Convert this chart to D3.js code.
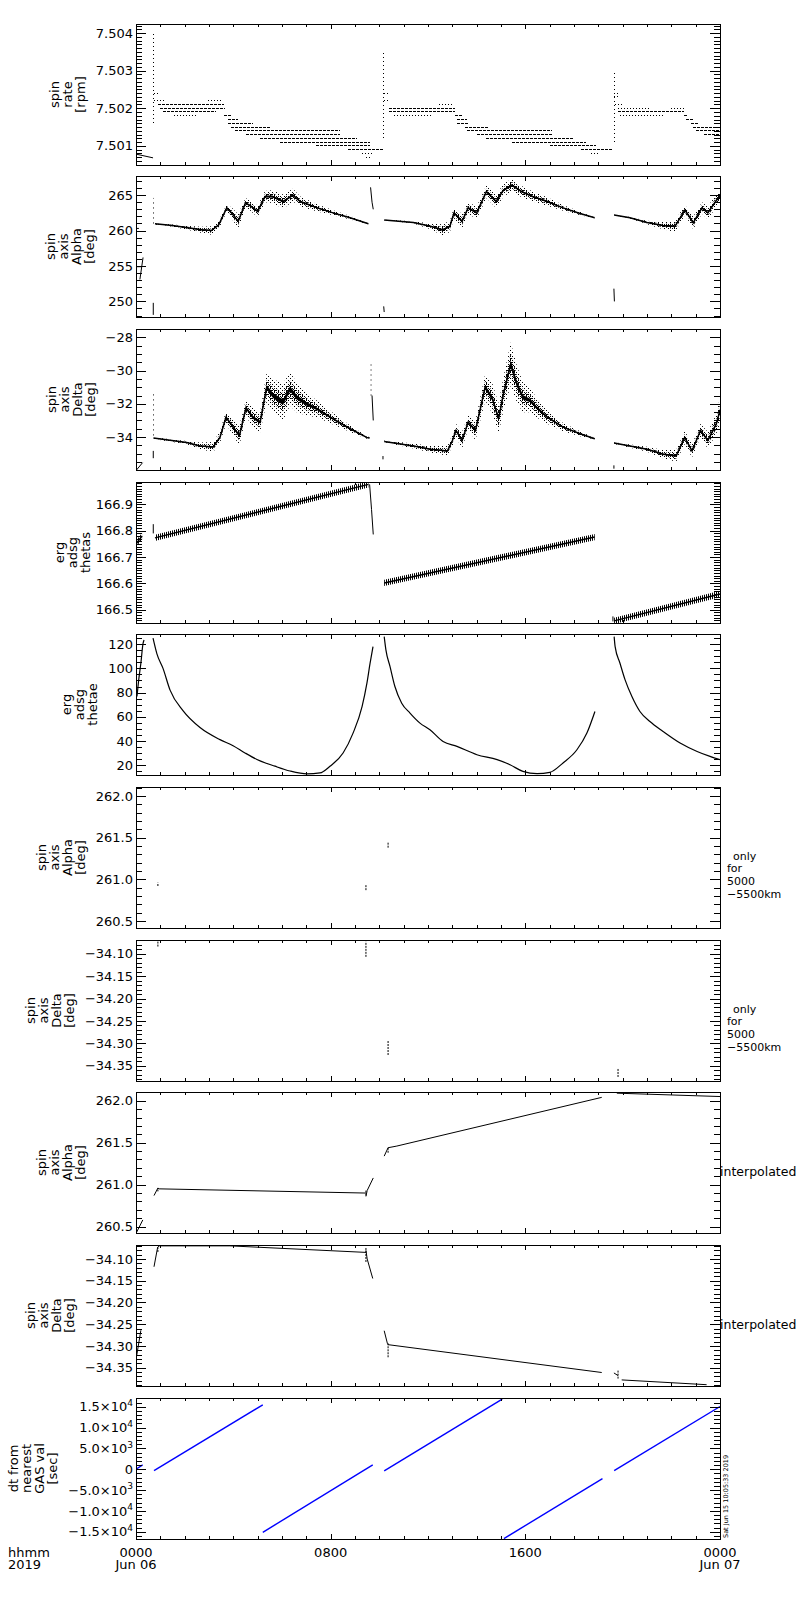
<!DOCTYPE html>
<html>
<head>
<meta charset="utf-8">
<script src="https://cdn.jsdelivr.net/npm/d3@7"></script>
<style>
  body { margin: 0; background: #fff; }
  svg { display: block; }
  text { font-family: "DejaVu Sans", sans-serif; fill: #000; }
</style>
</head>
<body>
<script>
// all times are hours since 2019-06-06 00:00

// --- spin rate [rpm]: quantised rows [h0, h1, value]
const rateDense = [
  [0.9, 3.6, 7.5021], [0.98, 3.65, 7.5020], [1.1, 3.3, 7.5019],
  [3.6, 3.95, 7.5018], [3.8, 4.2, 7.5017], [3.8, 4.8, 7.5016], [3.9, 5.5, 7.5015],
  [4.07, 8.4, 7.5014], [4.5, 8.4, 7.5013], [5.1, 9.1, 7.5012], [5.9, 9.6, 7.5011],
  [7.4, 9.6, 7.5010], [8.7, 10.15, 7.5009],
  [10.4, 13.1, 7.5020], [10.4, 13.1, 7.5019], [13.1, 13.4, 7.5018], [13.2, 13.6, 7.5017],
  [13.2, 13.7, 7.5016], [13.5, 14.5, 7.5015], [13.6, 17.1, 7.5014], [14.0, 17.1, 7.5013],
  [14.4, 17.95, 7.5012], [15.45, 18.5, 7.5011], [17.0, 18.9, 7.5010], [18.3, 19.6, 7.5009],
  [19.8, 22.5, 7.5019], [22.5, 22.7, 7.5018], [22.6, 22.95, 7.5017], [22.8, 23.1, 7.5016],
  [22.9, 23.9, 7.5015], [23.0, 24, 7.5014], [23.35, 24, 7.5013]
];
const rateSparse = [
  [0.72, 0.95, 7.5024], [0.75, 1.15, 7.5022], [1.55, 2.5, 7.5018], [2.95, 3.5, 7.5022],
  [9.3, 9.8, 7.5008], [9.45, 9.7, 7.5007],
  [10.2, 10.35, 7.5024], [10.2, 10.45, 7.5022], [10.6, 12.2, 7.5018], [12.45, 13.0, 7.5021],
  [18.7, 19.0, 7.5008],
  [19.65, 19.9, 7.5024], [19.65, 19.9, 7.5023], [19.7, 20.0, 7.5021], [19.8, 21.1, 7.5020],
  [22.0, 22.5, 7.5020], [19.9, 21.7, 7.5018]
];
const rateLead = [[0, 7.50078], [0.7, 7.50068]];
const rateSpikes = [[0.7, 7.5016, 7.5040], [10.19, 7.5012, 7.50353], [19.65, 7.5011, 7.50295]];

// --- spin axis alpha [deg]: [h, centre, half spread]
const alphaCycles = [
  [[0.78, 260.95, 0.1], [1.5, 260.7, 0.15], [2.2, 260.35, 0.3], [2.7, 260.1, 0.45], [3.1, 260.0, 0.6],
   [3.4, 260.8, 0.6], [3.73, 263.2, 0.5], [3.95, 262.4, 0.8], [4.2, 261.3, 1.0], [4.5, 263.9, 0.7],
   [4.7, 263.5, 0.7], [5.0, 262.7, 0.8], [5.3, 264.8, 0.8], [5.6, 264.8, 0.9], [6.05, 264.1, 1.0],
   [6.45, 265.0, 0.9], [6.75, 264.1, 0.7], [7.45, 263.2, 0.5], [8.1, 262.5, 0.35], [8.8, 261.8, 0.25],
   [9.55, 260.95, 0.05]],
  [[10.2, 261.5, 0.05], [11.4, 261.15, 0.15], [12.1, 260.6, 0.4], [12.6, 260.1, 0.8], [12.9, 260.6, 0.8],
   [13.07, 262.5, 0.8], [13.4, 261.3, 1.0], [13.65, 263.2, 0.8], [14.0, 262.5, 0.9], [14.4, 265.5, 0.9],
   [14.8, 264.1, 0.9], [15.1, 265.7, 0.9], [15.45, 266.4, 0.9], [15.85, 265.5, 0.8], [16.3, 264.8, 0.7],
   [16.9, 264.1, 0.6], [17.55, 263.2, 0.4], [18.25, 262.4, 0.25], [18.85, 261.8, 0.05]],
  [[19.65, 262.2, 0.05], [20.3, 261.8, 0.1], [21.0, 261.15, 0.25], [21.66, 260.7, 0.5], [22.15, 260.6, 0.8],
   [22.56, 262.9, 0.7], [22.9, 261.1, 0.9], [23.26, 263.2, 0.8], [23.5, 262.5, 0.9], [23.86, 264.3, 0.9],
   [24, 264.8, 0.9]]
];
const alphaLines = [
  [[0.16, 253.1], [0.29, 256.2]], [[0.03, 254.9], [0.23, 254.9]], [[0.02, 260.3], [0.12, 260.3]],
  [[0.71, 249.8], [0.71, 248.1]], [[9.64, 266.1], [9.7, 264.0], [9.75, 263.0]],
  [[10.18, 249.3], [10.2, 248.5]], [[19.64, 251.8], [19.66, 250.0]]
];
const alphaDots = [[0.72, 261.0, 264.6]];

// --- spin axis delta [deg]
const deltaCycles = [
  [[0.72, -34.06, 0.05], [2.08, -34.33, 0.1], [2.63, -34.53, 0.2], [3.17, -34.59, 0.3], [3.45, -34.02, 0.35],
   [3.7, -32.81, 0.4], [4.0, -33.42, 0.5], [4.25, -33.92, 0.6], [4.52, -32.24, 0.5], [4.8, -32.81, 0.6],
   [5.1, -33.11, 0.6], [5.37, -31.0, 0.9], [5.63, -31.5, 1.0], [6.04, -31.9, 1.1], [6.33, -31.1, 1.0],
   [6.6, -31.6, 0.9], [7.0, -32.0, 0.7], [7.43, -32.3, 0.5], [8.1, -32.9, 0.35], [8.8, -33.5, 0.2],
   [9.48, -34.02, 0.08], [9.6, -34.06, 0.05]],
  [[10.2, -34.26, 0.05], [11.4, -34.53, 0.15], [12.1, -34.73, 0.2], [12.8, -34.83, 0.3], [13.0, -34.22, 0.35],
   [13.15, -33.6, 0.4], [13.4, -34.2, 0.5], [13.65, -33.1, 0.4], [13.95, -33.6, 0.6], [14.35, -31.0, 0.8],
   [14.65, -31.7, 0.9], [14.9, -32.9, 0.9], [15.1, -31.4, 1.0], [15.4, -29.6, 1.3], [15.65, -30.8, 1.1],
   [15.9, -31.6, 0.9], [16.2, -31.8, 0.7], [16.45, -32.2, 0.6], [16.9, -32.8, 0.4], [17.55, -33.4, 0.25],
   [18.25, -33.8, 0.15], [18.85, -34.1, 0.05]],
  [[19.65, -34.36, 0.05], [21.0, -34.73, 0.15], [21.66, -35.03, 0.25], [22.2, -35.13, 0.35], [22.55, -34.02, 0.4],
   [22.85, -34.83, 0.4], [23.2, -33.6, 0.4], [23.5, -34.2, 0.5], [23.85, -33.2, 0.6], [24, -32.4, 0.8]]
];
const deltaLines = [
  [[0.02, -35.98], [0.27, -35.54]], [[0.71, -34.83], [0.71, -35.27]],
  [[9.7, -31.5], [9.75, -33.0]], [[10.15, -35.14], [10.15, -35.34]], [[19.64, -35.7], [19.64, -35.9]]
];
const deltaDots = [[0.72, -33.9, -31.36], [9.66, -31.5, -29.58]];

// --- erg adsg thetas [deg]
const thetasBands = [
  [[0.0, 166.75], [0.25, 166.78]],
  [[0.78, 166.773], [9.55, 166.976]],
  [[10.2, 166.602], [18.85, 166.776]],
  [[19.65, 166.458], [24, 166.56]]
];
const thetasLines = [
  [[0.71, 166.79], [0.71, 166.825]],
  [[9.6, 166.976], [9.68, 166.88], [9.75, 166.786]],
  [[19.6, 166.456], [19.6, 166.475]]
];

// --- erg adsg thetae [deg]
const thetaeLines = [
  [[0.04, 76.7], [0.12, 91.9], [0.2, 104.3], [0.29, 120.8], [0.33, 123.6]],
  [[0.7, 125], [0.86, 112], [1.11, 100], [1.4, 82], [1.93, 65], [2.63, 51], [3.45, 41], [3.99, 36],
   [4.48, 30], [4.97, 24.6], [5.71, 19], [6.33, 15], [7.03, 12.6], [7.56, 13.4], [7.97, 18.9],
   [8.51, 29.9], [8.92, 46.4], [9.29, 68.4], [9.49, 87.8], [9.62, 104.3], [9.74, 118]],
  [[10.2, 126.3], [10.27, 115.3], [10.44, 101.5], [10.64, 85], [10.92, 71.2], [11.26, 63], [11.67, 54.7],
   [12.08, 49.2], [12.62, 39.5], [13.19, 35.4], [14.01, 28.5], [14.84, 24.4], [15.37, 20.2], [15.9, 14.7],
   [16.48, 12.8], [17.01, 13.9], [17.55, 21.7], [18.12, 32.6], [18.53, 46.4], [18.86, 64.3]],
  [[19.65, 126.3], [19.69, 118], [19.89, 104.3], [20.1, 90.5], [20.38, 76.7], [20.71, 64.3], [21.12, 56],
   [21.66, 47.8], [22.36, 38.2], [23.06, 31.2], [23.59, 27.1], [24, 24.4]]
];

// --- only for 5000-5500 km: [h, low, high]
const alphaMarks = [[0.9, 260.92, 260.96], [9.45, 260.87, 260.93], [10.36, 261.38, 261.44]];
const deltaMarks = [[0.9, -34.084, -34.073], [9.45, -34.107, -34.073], [10.36, -34.326, -34.293], [19.81, -34.375, -34.355]];

// --- interpolated
const alphaInterp = [
  [[0.02, 260.43], [0.28, 260.58]],
  [[0.74, 260.87], [0.9, 260.96], [0.95, 260.95], [9.45, 260.90]],
  [[9.45, 260.86], [9.5, 260.93], [9.75, 261.08]],
  [[10.2, 261.34], [10.36, 261.44], [10.72, 261.46], [19.14, 262.04]],
  [[19.76, 262.09], [24, 262.05]]
];
const deltaInterp = [
  [[0.02, -34.325], [0.2, -34.264]],
  [[0.74, -34.118], [0.89, -34.073], [0.95, -34.07], [3.86, -34.07], [9.45, -34.085]],
  [[9.45, -34.08], [9.5, -34.1], [9.73, -34.145]],
  [[10.2, -34.265], [10.33, -34.294], [10.36, -34.297], [19.14, -34.361]],
  [[19.64, -34.362], [19.81, -34.368]],
  [[19.96, -34.378], [23.45, -34.389]]
];

// --- dt from nearest GAS val [sec]
const dtLines = [
  [[0, 0], [0.275, 1030]],
  [[0.74, -330], [5.21, 15450]],
  [[5.21, -15150], [9.73, 1030]],
  [[10.2, -410], [15.05, 16830]],
  [[15.12, -16650], [19.17, -2260]],
  [[19.65, -330], [24, 15050]]
];

// --- axis text
const hourTicks = d3.range(0, 25);
const hourMajor = [0, 8, 16, 24];
const hourLabels = ['0000', '0800', '1600', '0000'];
const dayLabels = ['Jun 06', '', '', 'Jun 07'];
const stamp = 'Sat Jun 15 10:05:33 2019';

const panels = [
  { title: ['spin', 'rate', '[rpm]'], domain: [7.50049, 7.50424], ticks: [7.501, 7.502, 7.503, 7.504], minor: 0.0001, fmt: d3.format('.3f'), draw: drawRate },
  { title: ['spin', 'axis', 'Alpha', '[deg]'], domain: [247.8, 267.7], ticks: [250, 255, 260, 265], minor: 1, fmt: d3.format('d'), shift: -3,
    draw: (g, y) => drawCloud(g, y, alphaCycles, alphaLines, alphaDots) },
  { title: ['spin', 'axis', 'Delta', '[deg]'], domain: [-35.98, -27.5], ticks: [-34, -32, -30, -28], minor: 0.5, fmt: d3.format('d'),
    draw: (g, y) => drawCloud(g, y, deltaCycles, deltaLines, deltaDots) },
  { title: ['erg', 'adsg', 'thetas'], domain: [166.45, 166.985], ticks: [166.5, 166.6, 166.7, 166.8, 166.9], minor: 0.01, fmt: d3.format('.1f'), shift: 5, draw: drawBand },
  { title: ['erg', 'adsg', 'thetae'], domain: [11.7, 128.5], ticks: [20, 40, 60, 80, 100, 120], minor: 5, fmt: d3.format('d'),
    draw: (g, y) => drawLines(g, y, thetaeLines, '#000', 1.2, d3.curveMonotoneX) },
  { title: ['spin', 'axis', 'Alpha', '[deg]'], domain: [260.416, 262.108], ticks: [260.5, 261.0, 261.5, 262.0], minor: 0.1, fmt: d3.format('.1f'),
    note: ['only', 'for', '5000', '\u22125500km'], draw: (g, y) => drawMarks(g, y, alphaMarks) },
  { title: ['spin', 'axis', 'Delta', '[deg]'], domain: [-34.384, -34.0694], ticks: [-34.35, -34.30, -34.25, -34.20, -34.15, -34.10], minor: 0.01, fmt: d3.format('.2f'),
    note: ['only', 'for', '5000', '\u22125500km'], draw: (g, y) => drawMarks(g, y, deltaMarks) },
  { title: ['spin', 'axis', 'Alpha', '[deg]'], domain: [260.424, 262.104], ticks: [260.5, 261.0, 261.5, 262.0], minor: 0.1, fmt: d3.format('.1f'),
    note: ['interpolated'], draw: (g, y) => { drawLines(g, y, alphaInterp, '#000', 1); drawMarks(g, y, alphaMarks); } },
  { title: ['spin', 'axis', 'Delta', '[deg]'], domain: [-34.392, -34.068], ticks: [-34.35, -34.30, -34.25, -34.20, -34.15, -34.10], minor: 0.01, fmt: d3.format('.2f'),
    note: ['interpolated'], draw: (g, y) => { drawLines(g, y, deltaInterp, '#000', 1); drawMarks(g, y, deltaMarks); } },
  { title: ['dt from', 'nearest', 'GAS val', '[sec]'], domain: [-16750, 17090], ticks: [-15000, -10000, -5000, 0, 5000, 10000, 15000], minor: 1000, fmt: d3.format('d'),
    sci: true, draw: (g, y) => drawLines(g, y, dtLines, '#0000ff', 1.4) }
];

const left = 136, right = 720;
const top0 = 23.5, pitch = 152.7, ph = 141;

const svg = d3.select('body').append('svg')
  .attr('width', 800)
  .attr('height', 1600);

const defs = svg.append('defs');
// light stipple for the outer scatter, denser one near the core
const stip = defs.append('pattern').attr('id', 'stip').attr('patternUnits', 'userSpaceOnUse')
  .attr('width', 4).attr('height', 4);
[[0, 0], [2, 2]].forEach(d => stip.append('rect').attr('x', d[0]).attr('y', d[1]).attr('width', 1).attr('height', 1).attr('fill', '#000'));
const dense = defs.append('pattern').attr('id', 'dense').attr('patternUnits', 'userSpaceOnUse')
  .attr('width', 4).attr('height', 4);
[[0, 0], [2, 0], [1, 1], [3, 2], [0, 2], [2, 3]].forEach(d => dense.append('rect').attr('x', d[0]).attr('y', d[1]).attr('width', 1).attr('height', 1).attr('fill', '#000'));
defs.append('pattern').attr('id', 'hatch').attr('patternUnits', 'userSpaceOnUse')
  .attr('width', 2).attr('height', 4)
  .append('rect').attr('width', 1).attr('height', 4).attr('fill', '#000');

const x = d3.scaleLinear().domain([0, 24]).range([left, right]);

function line(y, curve) {
  return d3.line().x(d => x(d[0])).y(d => y(d[1])).curve(curve || d3.curveLinear);
}

function drawRate(g, y) {
  const rows = (data, dash) => g.selectAll(null)
    .data(data)
    .enter().append('line')
    .attr('x1', d => x(d[0])).attr('x2', d => x(d[1]))
    .attr('y1', d => y(d[2])).attr('y2', d => y(d[2]))
    .attr('stroke', '#000').attr('stroke-dasharray', dash)
    .attr('shape-rendering', 'crispEdges');
  rows(rateDense, '3,1');
  rows(rateSparse, '1,2');
  g.append('path').attr('d', line(y)(rateLead)).attr('fill', 'none').attr('stroke', '#000');
  g.selectAll(null)
    .data(rateSpikes)
    .enter().append('line')
    .attr('x1', d => x(d[0])).attr('x2', d => x(d[0]))
    .attr('y1', d => y(d[1])).attr('y2', d => y(d[2]))
    .attr('stroke', '#000').attr('stroke-dasharray', '1,3')
    .attr('shape-rendering', 'crispEdges');
}

function drawCloud(g, y, cycles, lines, dots) {
  const band = f => d3.area().x(d => x(d[0])).y0(d => y(d[1] - d[2] * f)).y1(d => y(d[1] + d[2] * f));
  cycles.forEach(c => {
    g.append('path').attr('d', band(1)(c)).attr('fill', 'url(#stip)');
    g.append('path').attr('d', band(0.5)(c)).attr('fill', 'url(#dense)');
    g.append('path').attr('d', band(0.15)(c)).attr('fill', '#000');
    g.append('path').attr('d', line(y)(c)).attr('fill', 'none').attr('stroke', '#000').attr('stroke-width', 1.5);
  });
  drawLines(g, y, lines, '#000', 1);
  g.selectAll(null)
    .data(dots)
    .enter().append('line')
    .attr('x1', d => x(d[0])).attr('x2', d => x(d[0]))
    .attr('y1', d => y(d[1])).attr('y2', d => y(d[2]))
    .attr('stroke', '#000').attr('stroke-dasharray', '1,4');
}

function drawBand(g, y) {
  const band = d3.area().x(d => x(d[0])).y0(d => y(d[1] - 0.012)).y1(d => y(d[1] + 0.012));
  thetasBands.forEach(b => g.append('path').attr('d', band(b)).attr('fill', 'url(#hatch)'));
  thetasBands.forEach(b => g.append('path').attr('d', line(y)(b)).attr('fill', 'none')
    .attr('stroke', '#000').attr('stroke-width', 1.5));
  drawLines(g, y, thetasLines, '#000', 1);
}

function drawLines(g, y, lines, color, width, curve) {
  g.selectAll(null)
    .data(lines)
    .enter().append('path')
    .attr('d', line(y, curve))
    .attr('fill', 'none')
    .attr('stroke', color)
    .attr('stroke-width', width);
}

function drawMarks(g, y, marks) {
  g.selectAll(null)
    .data(marks)
    .enter().append('line')
    .attr('x1', d => x(d[0])).attr('x2', d => x(d[0]))
    .attr('y1', d => y(d[1])).attr('y2', d => y(d[2]))
    .attr('stroke', '#000').attr('stroke-dasharray', '2,1');
}

function sciLabel(text, v) {
  if (v === 0) return;
  const e = Math.floor(Math.log10(Math.abs(v)));
  const m = v / Math.pow(10, e);
  text.text(null);
  text.append('tspan').text(d3.format('.1f')(m) + '\u00d710');
  text.append('tspan').attr('dy', '-0.6em').attr('font-size', '9px').text(e);
}

panels.forEach((p, i) => {
  const top = Math.round(top0 + i * pitch);
  const y = d3.scaleLinear().domain(p.domain).range([top + ph, top]);
  const g = svg.append('g');

  defs.append('clipPath').attr('id', 'clip' + i)
    .append('rect').attr('x', left).attr('y', top).attr('width', right - left).attr('height', ph);

  // data marks
  const plot = g.append('g').attr('clip-path', `url(#clip${i})`);
  p.draw(plot, y);

  // minor ticks
  const k0 = Math.ceil(p.domain[0] / p.minor - 1e-6), k1 = Math.floor(p.domain[1] / p.minor + 1e-6);
  const minor = d3.range(k0, k1 + 1).map(k => k * p.minor);

  g.append('g').attr('transform', `translate(${left},0)`)
    .call(d3.axisLeft(y).tickValues(minor).tickSize(-6).tickFormat(''));
  g.append('g').attr('transform', `translate(${right},0)`)
    .call(d3.axisRight(y).tickValues(minor).tickSize(-6).tickFormat(''));
  g.append('g').attr('transform', `translate(${right},0)`)
    .call(d3.axisRight(y).tickValues(p.ticks).tickSize(-10).tickFormat(''));

  const yAxis = g.append('g').attr('transform', `translate(${left},0)`)
    .call(d3.axisLeft(y).tickValues(p.ticks).tickSizeInner(-10).tickSizeOuter(0).tickPadding(3).tickFormat(p.fmt));
  yAxis.attr('font-family', null).attr('font-size', 13);
  if (p.sci) yAxis.selectAll('.tick text').each(function (d) { sciLabel(d3.select(this), d); });

  g.append('g').attr('transform', `translate(0,${top + ph})`)
    .call(d3.axisBottom(x).tickValues(hourTicks).tickSize(-3).tickFormat(''));
  g.append('g').attr('transform', `translate(0,${top + ph})`)
    .call(d3.axisBottom(x).tickValues(hourMajor).tickSize(-5).tickFormat(''));
  g.append('g').attr('transform', `translate(0,${top})`)
    .call(d3.axisTop(x).tickValues(hourTicks).tickSize(-3).tickFormat(''));
  g.append('g').attr('transform', `translate(0,${top})`)
    .call(d3.axisTop(x).tickValues(hourMajor).tickSize(-5).tickFormat(''));
  g.selectAll('path, line').filter(function () { return !plot.node().contains(this); })
    .attr('shape-rendering', 'crispEdges');

  // y title: stacked lines, rotated
  const minLeft = left + d3.min(yAxis.selectAll('.tick text').nodes(), n => n.getBBox().x);
  const cy = top + ph / 2;
  const lastB = minLeft - 11 + (p.shift || 0);
  p.title.forEach((t, j) => {
    g.append('text')
      .attr('transform', `translate(${lastB - (p.title.length - 1 - j) * 13},${cy}) rotate(-90)`)
      .attr('text-anchor', 'middle')
      .attr('font-size', 13)
      .text(t);
  });

  // right-hand notes
  if (p.note && p.note.length > 1) {
    p.note.forEach((t, j) => {
      g.append('text')
        .attr('x', j === 0 ? 733 : 727)
        .attr('y', cy + 2 + j * 12.9)
        .attr('font-size', 11)
        .text(t);
    });
  } else if (p.note) {
    g.append('text').attr('x', 720).attr('y', cy + 13.5).attr('font-size', 12.5).text(p.note[0]);
  }

  // time labels under the last panel
  if (i === panels.length - 1) {
    const base = top + ph;
    g.selectAll(null)
      .data(hourMajor)
      .enter().append('text')
      .attr('x', d => x(d)).attr('y', base + 18)
      .attr('text-anchor', 'middle').attr('font-size', 13)
      .text((d, j) => hourLabels[j]);
    g.selectAll(null)
      .data(hourMajor)
      .enter().append('text')
      .attr('x', d => x(d)).attr('y', base + 30)
      .attr('text-anchor', 'middle').attr('font-size', 13)
      .text((d, j) => dayLabels[j]);
    g.append('text').attr('x', 8).attr('y', base + 18).attr('font-size', 13).text('hhmm');
    g.append('text').attr('x', 8).attr('y', base + 30).attr('font-size', 13).text('2019');
    g.append('text')
      .attr('transform', `translate(728,${base - 1}) rotate(-90)`)
      .attr('font-size', 6.5)
      .text(stamp);
  }
});
</script>
</body>
</html>
